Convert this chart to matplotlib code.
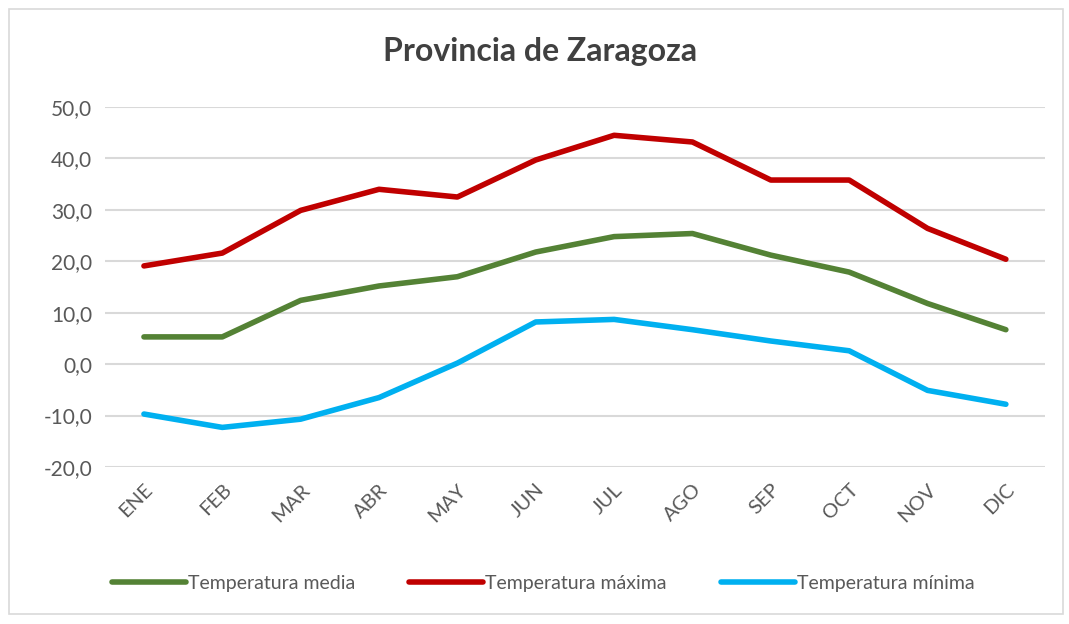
import matplotlib
matplotlib.use("Agg")
import matplotlib.pyplot as plt
from matplotlib.patches import Rectangle

plt.rcParams["font.family"] = ["Lato", "DejaVu Sans"]

# Monthly temperatures, Provincia de Zaragoza
months = ["ENE", "FEB", "MAR", "ABR", "MAY", "JUN", "JUL", "AGO", "SEP", "OCT", "NOV", "DIC"]
t_media = [5.3, 5.3, 12.4, 15.2, 17.0, 21.8, 24.8, 25.4, 21.2, 17.9, 11.8, 6.7]
t_max = [19.1, 21.6, 29.9, 34.0, 32.5, 39.7, 44.5, 43.2, 35.8, 35.8, 26.4, 20.4]
t_min = [-9.7, -12.3, -10.7, -6.5, 0.2, 8.2, 8.7, 6.7, 4.5, 2.6, -5.1, -7.8]
yticks = [-20, -10, 0, 10, 20, 30, 40, 50]

fig = plt.figure(figsize=(10.69, 6.24), dpi=100)
fig.patches.append(Rectangle((0.008, 0.016), 0.986, 0.97, transform=fig.transFigure,
                             fill=False, edgecolor="#d9d9d9", linewidth=1.2))
ax = fig.add_axes([0.098, 0.2516, 0.8796, 0.5769])

x = range(len(months))
lw = 4.0
ax.plot(x, t_media, color="#548235", lw=lw, label="Temperatura media", solid_capstyle="round")
ax.plot(x, t_max, color="#C00000", lw=lw, label="Temperatura máxima", solid_capstyle="round")
ax.plot(x, t_min, color="#00B0F0", lw=lw, label="Temperatura mínima", solid_capstyle="round")

ax.set_xlim(-0.5, len(months) - 0.5)
ax.set_ylim(-20, 50)
ax.set_yticks(yticks)
ax.set_yticklabels([f"{v:.1f}".replace(".", ",") for v in yticks], fontsize=15, color="#595959")
ax.set_xticks(list(x))
ax.set_xticklabels(months, rotation=45, ha="right", rotation_mode="anchor",
                   fontsize=14.5, color="#595959")
ax.tick_params(axis="both", length=0)
ax.tick_params(axis="y", pad=9)
ax.tick_params(axis="x", pad=10)
for s in ax.spines.values():
    s.set_visible(False)
ax.grid(axis="y", color="#d9d9d9", lw=1.5)
ax.set_axisbelow(True)

fig.text(0.505, 0.918, "Provincia de Zaragoza", ha="center", va="center",
         fontsize=23, fontweight="bold", color="#404040")

ax.legend(loc="center", bbox_to_anchor=(0.508, 0.065), bbox_transform=fig.transFigure,
          ncol=3, frameon=False, fontsize=14, handlelength=3.8, handletextpad=0.1,
          columnspacing=2.8, labelcolor="#595959")

fig.savefig("out.png", dpi=100)
